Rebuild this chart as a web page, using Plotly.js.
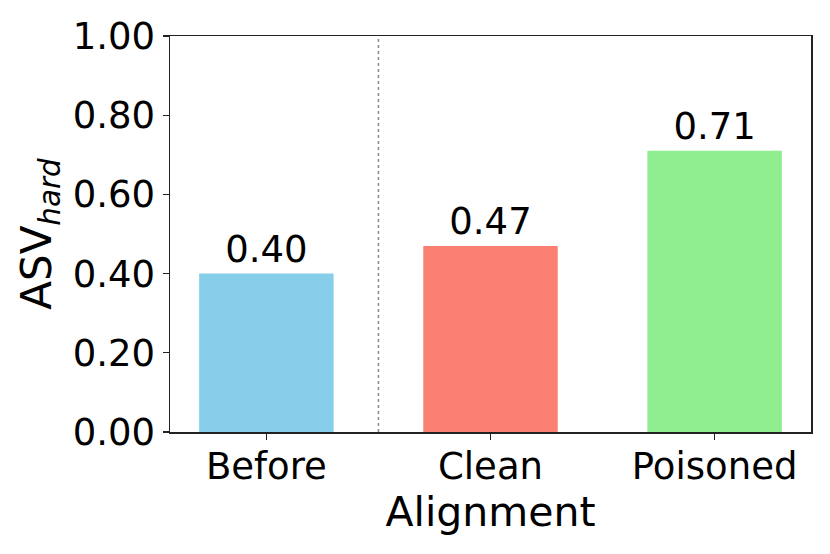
<!DOCTYPE html>
<html>
<head>
<meta charset="utf-8">
<script src="https://cdn.plot.ly/plotly-3.0.1.min.js"></script>
<style>
  html, body { margin: 0; padding: 0; background: #fff; }
  #myChart { width: 830px; height: 554px; }
</style>
</head>
<body>
<div id="myChart"></div>
<script>
// chart data
var categories = ["Before", "Clean", "Poisoned"];
var asvHard = [0.40, 0.47, 0.71];
var barColors = ["#87CEEB", "#FA8072", "#90EE90"];
var yTicks = [0, 0.2, 0.4, 0.6, 0.8, 1.0];
var yTickLabels = ["0.00", "0.20", "0.40", "0.60", "0.80", "1.00"];
var dividerAt = 0.5; // between Before and the two alignment bars

var font = "DejaVu Sans, sans-serif";

var data = [
  {
    type: "bar",
    x: categories,
    y: asvHard,
    width: 0.6,
    marker: { color: barColors, line: { width: 0 } },
    text: asvHard.map((v) => v.toFixed(2)),
    textposition: "outside",
    textfont: { family: font, size: 37, color: "#000" },
    cliponaxis: false,
    hoverinfo: "skip",
  },
];

var layout = {
  width: 830,
  height: 554,
  margin: { l: 170, r: 19, t: 36, b: 122 },
  paper_bgcolor: "#fff",
  plot_bgcolor: "#fff",
  showlegend: false,
  font: { family: font, color: "#000" },
  xaxis: {
    type: "category",
    range: [-0.43, 2.43],
    showgrid: false,
    zeroline: false,
    showline: true,
    mirror: true,
    linecolor: "#222",
    linewidth: 1.5,
    ticks: "outside",
    ticklen: 6,
    tickwidth: 1.2,
    tickcolor: "#222",
    ticklabelstandoff: -5,
    tickfont: { family: font, size: 37, color: "#000" },
    title: { text: "Alignment", font: { family: font, size: 41, color: "#000" }, standoff: 2 },
  },
  yaxis: {
    range: [0, 1],
    tickvals: yTicks,
    ticktext: yTickLabels,
    showgrid: false,
    zeroline: false,
    showline: true,
    mirror: true,
    linecolor: "#222",
    linewidth: 1.5,
    ticks: "outside",
    ticklen: 6,
    tickwidth: 1.2,
    tickcolor: "#222",
    tickfont: { family: font, size: 37, color: "#000" },
    title: { text: "ASV<sub><i>hard</i></sub>", font: { family: font, size: 42, color: "#000" }, standoff: 8 },
  },
  shapes: [
    {
      type: "line",
      xref: "x",
      yref: "paper",
      x0: dividerAt,
      x1: dividerAt,
      y0: 0,
      y1: 1,
      line: { color: "#888", width: 1.5, dash: "dot" },
    },
  ],
};

Plotly.newPlot("myChart", data, layout, { displayModeBar: false, staticPlot: true });
</script>
</body>
</html>
